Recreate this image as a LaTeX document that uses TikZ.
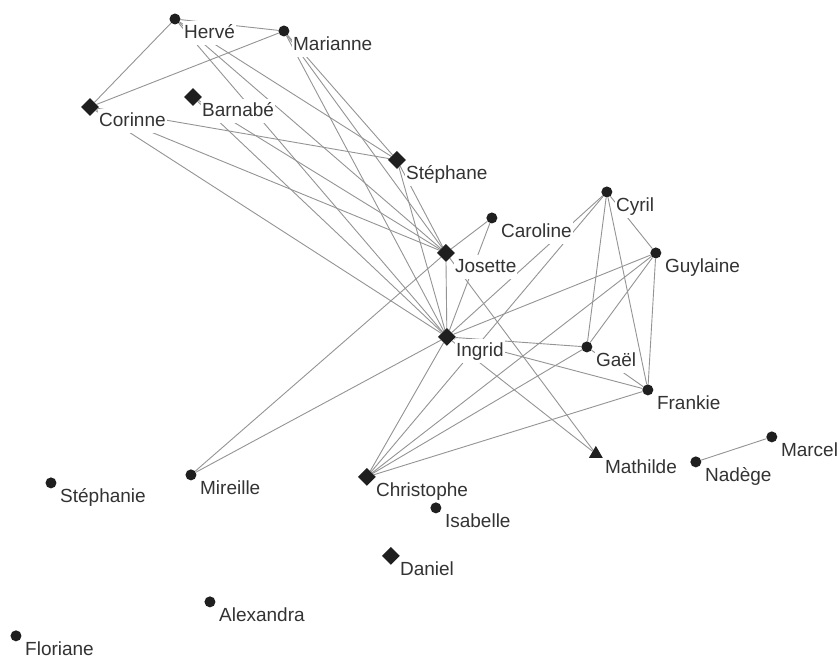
\documentclass[tikz,border=0pt]{standalone}
\usepackage{fontspec}
\setmainfont{Liberation Sans}
\usetikzlibrary{shapes.geometric}
\pgfdeclarelayer{paper}
\pgfdeclarelayer{bg}
\pgfdeclarelayer{fg}
\pgfsetlayers{paper,bg,main,fg}
\tikzset{
  dot/.style={circle, fill=black!88, inner sep=0pt, minimum size=11pt},
  dia/.style={diamond, fill=black!88, inner sep=0pt, minimum size=18pt},
  tri/.style={regular polygon, regular polygon sides=3, fill=black!88, inner sep=0pt, minimum size=16pt},
  lbl/.style={anchor=base west, fill=white, inner sep=1pt, text=black!80,
    font=\fontsize{19}{22}\selectfont, text height=17pt, text depth=5pt},
  link/.style={draw=black!42, line width=0.9pt}
}
\newcommand\mkperson[5]{%
  \begin{pgfonlayer}{fg}\node[#4] (#1) at (#2,#3) {};\end{pgfonlayer}
  \node[lbl] (#1-l) at ({#2+8},{#3+20}) {#5};}
\begin{document}
\begin{tikzpicture}[x=1pt,y=-1pt]
\begin{pgfonlayer}{paper}
\useasboundingbox[fill=white] (0,0) rectangle (839,656);
\end{pgfonlayer}
\mkperson{herve}{175}{19}{dot}{Hervé}
\mkperson{marianne}{284}{31}{dot}{Marianne}
\mkperson{corinne}{90}{107}{dia}{Corinne}
\mkperson{barnabe}{193}{97}{dia}{Barnabé}
\mkperson{stephane}{397}{160}{dia}{Stéphane}
\mkperson{caroline}{492}{218}{dot}{Caroline}
\mkperson{cyril}{607}{192}{dot}{Cyril}
\mkperson{josette}{446}{253}{dia}{Josette}
\mkperson{guylaine}{656}{253}{dot}{Guylaine}
\mkperson{ingrid}{447}{337}{dia}{Ingrid}
\mkperson{gael}{587}{347}{dot}{Gaël}
\mkperson{frankie}{648}{390}{dot}{Frankie}
\mkperson{mathilde}{596}{454}{tri}{Mathilde}
\mkperson{nadege}{696}{462}{dot}{Nadège}
\mkperson{marcel}{772}{437}{dot}{Marcel}
\mkperson{stephanie}{51}{483}{dot}{Stéphanie}
\mkperson{mireille}{191}{475}{dot}{Mireille}
\mkperson{christophe}{367}{477}{dia}{Christophe}
\mkperson{isabelle}{436}{508}{dot}{Isabelle}
\mkperson{daniel}{391}{556}{dia}{Daniel}
\mkperson{alexandra}{210}{602}{dot}{Alexandra}
\mkperson{floriane}{16}{636}{dot}{Floriane}
\begin{pgfonlayer}{bg}
\draw[link] (herve) -- (marianne);
\draw[link] (herve) -- (corinne);
\draw[link] (marianne) -- (corinne);
\draw[link] (herve) -- (stephane);
\draw[link] (herve) -- (josette);
\draw[link] (herve) -- (ingrid);
\draw[link] (marianne) -- (stephane);
\draw[link] (marianne) -- (josette);
\draw[link] (marianne) -- (ingrid);
\draw[link] (corinne) -- (stephane);
\draw[link] (corinne) -- (josette);
\draw[link] (corinne) -- (ingrid);
\draw[link] (barnabe) -- (josette);
\draw[link] (barnabe) -- (ingrid);
\draw[link] (stephane) -- (josette);
\draw[link] (stephane) -- (ingrid);
\draw[link] (josette) -- (ingrid);
\draw[link] (josette) -- (caroline);
\draw[link] (josette) -- (mireille);
\draw[link] (josette) -- (mathilde);
\draw[link] (caroline) -- (ingrid);
\draw[link] (ingrid) -- (mireille);
\draw[link] (ingrid) -- (gael);
\draw[link] (ingrid) -- (frankie);
\draw[link] (ingrid) -- (mathilde);
\draw[link] (ingrid) -- (christophe);
\draw[link] (ingrid) -- (cyril);
\draw[link] (ingrid) -- (guylaine);
\draw[link] (cyril) -- (christophe);
\draw[link] (cyril) -- (guylaine);
\draw[link] (cyril) -- (gael);
\draw[link] (cyril) -- (frankie);
\draw[link] (guylaine) -- (gael);
\draw[link] (guylaine) -- (frankie);
\draw[link] (guylaine) -- (christophe);
\draw[link] (gael) -- (frankie);
\draw[link] (gael) -- (christophe);
\draw[link] (frankie) -- (christophe);
\draw[link] (nadege) -- (marcel);
\end{pgfonlayer}
\end{tikzpicture}
\end{document}
